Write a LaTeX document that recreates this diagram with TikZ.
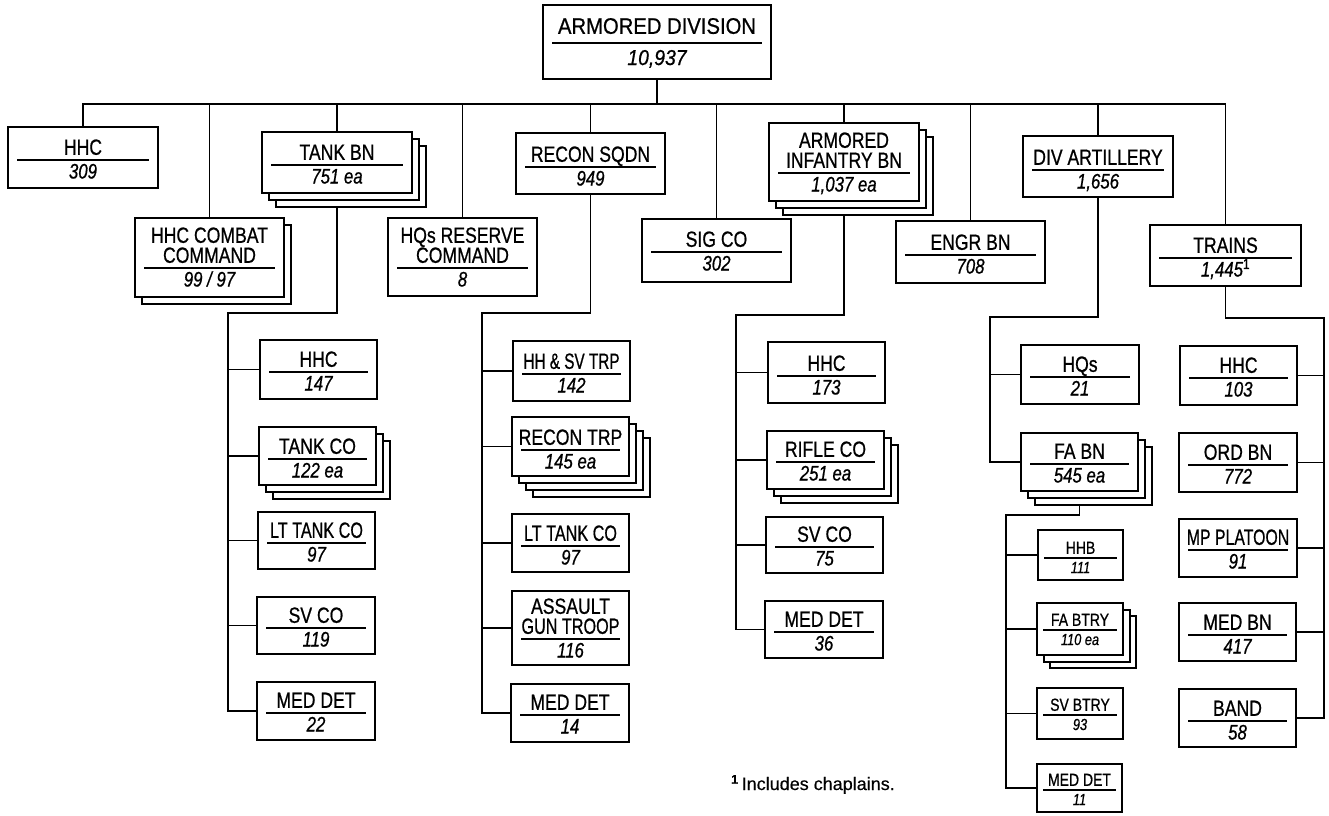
\documentclass[tikz,border=0pt]{standalone}
\usepackage{graphicx}
\usepackage{fontspec}
\setmainfont{Liberation Sans}[FakeStretch=0.8,FakeBold=0.7]
\newfontfamily\fnfont{Liberation Sans}[FakeBold=0.4]
\newfontfamily\divfont{Liberation Sans}[FakeStretch=0.9,FakeBold=0.7]
\pgfdeclarelayer{background}
\pgfsetlayers{background,main}
\tikzset{
  unitbox/.style={draw, line width=2pt, fill=white, inner sep=0pt, outer sep=0pt},
  shadowbox/.style={draw, line width=2pt, fill=white},
  rulel/.style={line width=2pt},
  conn/.style={line width=1.8pt},
  ttl/.style={font=\ttlfont, align=center, inner sep=0pt, text depth=0pt},
  num/.style={font=\numfont\itshape, inner sep=0pt}
}
\def\ttlfont{\fontsize{22}{20}\selectfont}
\def\numfont{\fontsize{21}{21}\selectfont}
\def\tb{5}\def\nb{18.5}\def\so{7}\def\ri{9}
% #1 shadows, #2 name, #3 x1, #4 y1, #5 x2, #6 y2, #7 rule y, #8 title, #9 number
\newcommand\obox[9][0]{%
  \ifnum#1>0
    \foreach \k in {#1,...,1}{%
      \draw[shadowbox] ({#3+\so*\k},{#4+\so*\k}) rectangle ({#5+\so*\k},{#6+\so*\k});
    }%
  \fi
  \node[unitbox, minimum width={(#5-#3)*1pt}, minimum height={(#6-#4)*1pt}] (#2) at ({(#3+#5)/2},{(#4+#6)/2}) {};
  \draw[rulel] ({#3+\ri},#7) -- ({#5-\ri},#7);
  \node[ttl, anchor=south] at ({(#3+#5)/2},{#7-\tb}) {#8};
  \node[num, anchor=base] at ({(#3+#5)/2},{#7+\nb}) {#9};
}
\begin{document}
\begin{tikzpicture}[x=1pt,y=-1pt]
\useasboundingbox (0,0) rectangle (1329,815);

% top
\begin{scope}
\def\ttlfont{\divfont\fontsize{22.5}{22}\selectfont}
\def\numfont{\divfont\fontsize{21.5}{22}\selectfont}
\def\nb{22}\def\tb{9}
\obox{div}{543}{5}{771}{79}{43}{ARMORED DIVISION}{10,937}
\end{scope}

% level 1
\obox{hhc0}{8}{127}{158}{188}{160}{HHC}{309}
\obox[1]{hhccc}{135}{218}{284}{297}{268}{HHC COMBAT\\COMMAND}{99 / 97}
\obox[2]{tankbn}{262}{132}{412}{193}{165}{TANK BN}{751 ea}
\obox{hqres}{388}{218}{537}{296}{268}{HQs RESERVE\\COMMAND}{8}
\obox{reconsq}{516}{133}{665}{194}{167}{RECON SQDN}{949}
\obox{sigco}{642}{219}{791}{282}{252}{SIG CO}{302}
\obox[2]{arminf}{769}{123}{919}{201}{173}{ARMORED\\INFANTRY BN}{1,037 ea}
\obox{engr}{896}{221}{1045}{283}{255}{ENGR BN}{708}
\obox{divarty}{1023}{136}{1173}{197}{170}{DIV ARTILLERY}{1,656}
\obox{trains}{1150}{225}{1301}{286}{258}{TRAINS}{1,445\textsuperscript{\upshape 1}}

% tank bn column
\obox{thhc}{260}{340}{377}{399}{372}{HHC}{147}
\obox[2]{ttank}{259}{427}{376}{485}{459}{TANK CO}{122 ea}
\obox{tlt}{258}{512}{375}{569}{543}{\scalebox{0.92}[1]{LT TANK CO}}{97}
\obox{tsv}{257}{597}{375}{654}{628}{SV CO}{119}
\obox{tmed}{257}{682}{375}{740}{713}{MED DET}{22}

% recon column
\obox{rhh}{513}{341}{630}{401}{374}{\scalebox{0.87}[1]{HH \& SV TRP}}{142}
\obox[3]{rtrp}{512}{417}{629}{476}{450}{RECON TRP}{145 ea}
\obox{rlt}{512}{514}{629}{572}{546}{\scalebox{0.92}[1]{LT TANK CO}}{97}
\obox{rasl}{512}{591}{629}{665}{639}{ASSAULT\\\scalebox{0.92}[1]{GUN TROOP}}{116}
\obox{rmed}{511}{684}{629}{742}{715}{MED DET}{14}

% infantry column
\obox{ihhc}{768}{342}{885}{403}{376}{HHC}{173}
\obox[2]{irifle}{767}{431}{884}{489}{462}{RIFLE CO}{251 ea}
\obox{isv}{766}{517}{883}{573}{547}{SV CO}{75}
\obox{imed}{765}{601}{883}{658}{632}{MED DET}{36}

% artillery
\obox{ahq}{1021}{345}{1139}{404}{377}{HQs}{21}
\obox[2]{afabn}{1021}{433}{1138}{491}{464}{FA BN}{545 ea}
\begin{scope}
\def\ttlfont{\fontsize{17.5}{17}\selectfont}
\def\numfont{\fontsize{16}{16}\selectfont}
\def\tb{4}\def\nb{15}\def\so{6.5}\def\ri{6}
\obox{fhhb}{1038}{530}{1123}{580}{558}{HHB}{111}
\obox[2]{fbtry}{1037}{603}{1123}{655}{630}{FA BTRY}{110 ea}
\obox{fsv}{1037}{688}{1123}{739}{715}{SV BTRY}{93}
\obox{fmed}{1037}{764}{1122}{812}{790}{MED DET}{11}
\end{scope}

% trains column
\obox{trhhc}{1180}{346}{1297}{405}{378}{HHC}{103}
\obox{trord}{1179}{433}{1297}{492}{465}{ORD BN}{772}
\obox{trmp}{1179}{519}{1297}{577}{550}{\scalebox{0.9}[1]{MP PLATOON}}{91}
\obox{trmed}{1179}{603}{1296}{661}{635}{MED BN}{417}
\obox{trband}{1179}{689}{1296}{747}{721}{BAND}{58}

% footnote
\node[anchor=base west, inner sep=0pt, font=\fnfont\fontsize{18}{18}\selectfont] (fn) at (731,790)
  {\textsuperscript{\bfseries 1}\,Includes chaplains.};

% connectors
\coordinate (bus) at (0,104);
\coordinate (tk) at (228,313);
\coordinate (rk) at (482,313);
\coordinate (ik) at (736,315);
\coordinate (ak) at (990,317);
\coordinate (fk) at (1006,515);
\coordinate (trk) at (1324,318);
\begin{pgfonlayer}{background}
\draw[conn] (div.south) -- (div.south |- bus);
\draw[conn] (hhc0.north) -- (hhc0.north |- bus) -- (trains.north |- bus) -- (trains.north);
\foreach \n in {hhccc,tankbn,hqres,reconsq,sigco,arminf,engr,divarty}
  \draw[conn] (\n.north) -- (\n.north |- bus);
% tank
\draw[conn] (tankbn.south) -- (tankbn.south |- tk) -- (tk) -- (tk |- tmed.west) -- (tmed.west);
\foreach \n in {thhc,ttank,tlt,tsv} \draw[conn] (tk |- \n.west) -- (\n.west);
% recon
\draw[conn] (reconsq.south) -- (reconsq.south |- rk) -- (rk) -- (rk |- rmed.west) -- (rmed.west);
\foreach \n in {rhh,rtrp,rlt,rasl} \draw[conn] (rk |- \n.west) -- (\n.west);
% infantry
\draw[conn] (arminf.south) -- (arminf.south |- ik) -- (ik) -- (ik |- imed.west) -- (imed.west);
\foreach \n in {ihhc,irifle,isv} \draw[conn] (ik |- \n.west) -- (\n.west);
% artillery
\draw[conn] (divarty.south) -- (divarty.south |- ak) -- (ak) -- (ak |- afabn.west) -- (afabn.west);
\draw[conn] (ak |- ahq.west) -- (ahq.west);
\draw[conn] (afabn.south) -- (afabn.south |- fk) -- (fk) -- (fk |- fmed.west) -- (fmed.west);
\foreach \n in {fhhb,fbtry,fsv} \draw[conn] (fk |- \n.west) -- (\n.west);
% trains
\draw[conn] (trains.south) -- (trains.south |- trk) -- (trk) -- (trk |- trband.east) -- (trband.east);
\foreach \n in {trhhc,trord,trmp,trmed} \draw[conn] (trk |- \n.east) -- (\n.east);
\end{pgfonlayer}
\end{tikzpicture}
\end{document}
